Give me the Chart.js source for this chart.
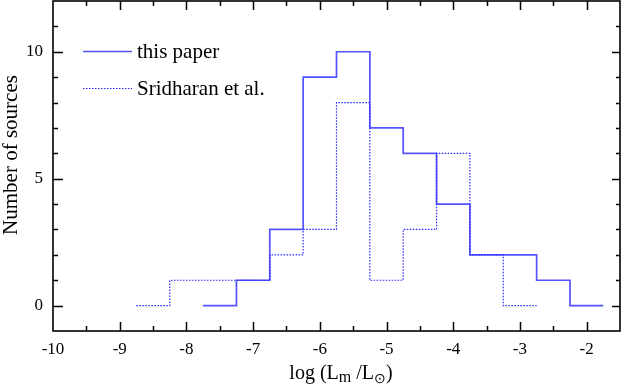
<!DOCTYPE html>
<html>
<head>
<meta charset="utf-8">
<script src="https://cdn.jsdelivr.net/npm/chart.js@4/dist/chart.umd.min.js"></script>
<style>
html,body{margin:0;padding:0;background:#fff;}
#wrap{width:622px;height:384px;position:relative;}
</style>
</head>
<body>
<div id="wrap"><canvas id="c" width="622" height="384"></canvas></div>
<script>
// ---- data ----
const binWidth = 0.5;
const thisPaperCenters = [-7.5, -7.0, -6.5, -6.0, -5.5, -5.0, -4.5, -4.0, -3.5, -3.0, -2.5, -2.0];
const thisPaperCounts  = [0, 1, 3, 9, 10, 7, 6, 4, 2, 2, 1, 0];
const sridharanCenters = [-8.5, -8.0, -7.5, -7.0, -6.5, -6.0, -5.5, -5.0, -4.5, -4.0, -3.5, -3.0];
const sridharanCounts  = [0, 1, 1, 1, 2, 3, 8, 1, 3, 6, 2, 0];
const xTickValues = [-10, -9, -8, -7, -6, -5, -4, -3, -2];
const yTickValues = [0, 5, 10];
const seriesNames = ['this paper', 'Sridharan et al.'];

const FONT = "'Liberation Serif', 'Times New Roman', serif";

function stepPoints(centers, counts) {
  // points at bin right edges (stepped 'after'), starting at first left edge
  const pts = [{x: centers[0] - binWidth / 2, y: counts[0]}];
  centers.forEach((c, i) => pts.push({x: c + binWidth / 2, y: counts[i]}));
  return pts;
}

const SOLID = '#5353ff';
const DOTTED = '#2a2aff';

const decor = {
  id: 'decor',
  afterDraw(chart) {
    const {ctx, chartArea: a, scales: {x, y}} = chart;
    ctx.save();
    ctx.strokeStyle = '#000';
    ctx.lineWidth = 1.6;
    ctx.strokeRect(a.left, a.top, a.right - a.left, a.bottom - a.top);
    ctx.lineWidth = 1.5;
    ctx.beginPath();
    // x ticks (inward) bottom & top
    for (let v = x.min; v <= x.max + 1e-9; v += 0.5) {
      const px = Math.round(x.getPixelForValue(v)) + 0.5;
      if (px <= a.left + 1 || px >= a.right - 1) continue;
      const major = Math.abs(v - Math.round(v)) < 1e-9;
      const len = major ? 9 : 5;
      ctx.moveTo(px, a.bottom); ctx.lineTo(px, a.bottom - len);
      ctx.moveTo(px, a.top); ctx.lineTo(px, a.top + len);
    }
    // y ticks
    for (let v = Math.ceil(y.min); v <= y.max; v += 1) {
      const py = Math.round(y.getPixelForValue(v)) + 0.5;
      if (py <= a.top + 1 || py >= a.bottom - 1) continue;
      const major = v % 5 === 0;
      ctx.moveTo(a.left, py); ctx.lineTo(a.left + (major ? 10 : 5), py);
      ctx.moveTo(a.right, py); ctx.lineTo(a.right - (major ? 8 : 4), py);
    }
    ctx.stroke();

    // legend
    ctx.lineWidth = 1.5;
    ctx.strokeStyle = SOLID;
    ctx.beginPath(); ctx.moveTo(83, 51.5); ctx.lineTo(132, 51.5); ctx.stroke();
    ctx.strokeStyle = DOTTED;
    ctx.lineWidth = 1.2;
    ctx.setLineDash([1.5, 1.5]);
    ctx.beginPath(); ctx.moveTo(83, 88.5); ctx.lineTo(132, 88.5); ctx.stroke();
    ctx.setLineDash([]);
    ctx.fillStyle = '#000';
    ctx.font = '21px ' + FONT;
    ctx.textBaseline = 'alphabetic';
    ctx.textAlign = 'left';
    ctx.fillText(seriesNames[0], 137, 58);
    ctx.fillText(seriesNames[1], 137, 95);

    // y title
    ctx.save();
    ctx.translate(17, 155);
    ctx.rotate(-Math.PI / 2);
    ctx.textAlign = 'center';
    ctx.font = '21px ' + FONT;
    ctx.fillText('Number of sources', 0, 0);
    ctx.restore();

    // x title: log (L_m /L_sun)
    const parts = [
      {t: 'log (L', f: '20px ', dy: 0},
      {t: 'm', f: '16px ', dy: 3},
      {t: ' /L', f: '20px ', dy: 0},
      {t: '\u2299', f: '14px ', dy: 4},
      {t: ')', f: '20px ', dy: 0}
    ];
    let total = 0;
    parts.forEach(p => { ctx.font = p.f + FONT; p.w = ctx.measureText(p.t).width; total += p.w; });
    let cx = 341 - total / 2;
    ctx.textAlign = 'left';
    parts.forEach(p => { ctx.font = p.f + FONT; ctx.fillText(p.t, cx, 379 + p.dy); cx += p.w; });
    ctx.restore();
  }
};

new Chart(document.getElementById('c'), {
  type: 'line',
  data: {
    datasets: [
      {
        label: seriesNames[0],
        data: stepPoints(thisPaperCenters, thisPaperCounts),
        stepped: 'after',
        borderColor: SOLID,
        borderWidth: 1.7,
        pointRadius: 0,
        fill: false,
        order: 1
      },
      {
        label: seriesNames[1],
        data: stepPoints(sridharanCenters, sridharanCounts),
        stepped: 'after',
        borderColor: DOTTED,
        borderWidth: 1.2,
        borderDash: [1.5, 1.5],
        pointRadius: 0,
        fill: false,
        order: 0
      }
    ]
  },
  options: {
    responsive: false,
    animation: false,
    layout: {padding: {top: 1, right: 2, left: 0, bottom: 0}},
    plugins: {legend: {display: false}, tooltip: {enabled: false}},
    scales: {
      x: {
        type: 'linear',
        min: -10, max: -1.5,
        grid: {display: false, drawTicks: false},
        border: {display: false},
        afterBuildTicks: s => { s.ticks = xTickValues.map(v => ({value: v})); },
        afterFit: s => { s.height = 53; s.paddingLeft = 0; s.paddingRight = 0; },
        ticks: {font: {family: FONT, size: 17}, color: '#000', padding: 8, maxRotation: 0, autoSkip: false}
      },
      y: {
        type: 'linear',
        min: -1, max: 12,
        grid: {display: false, drawTicks: false},
        border: {display: false},
        afterBuildTicks: s => { s.ticks = yTickValues.map(v => ({value: v})); },
        afterFit: s => { s.width = 53; s.paddingTop = 0; s.paddingBottom = 0; },
        ticks: {font: {family: FONT, size: 17}, color: '#000', padding: 10}
      }
    }
  },
  plugins: [decor]
});
</script>
</body>
</html>
